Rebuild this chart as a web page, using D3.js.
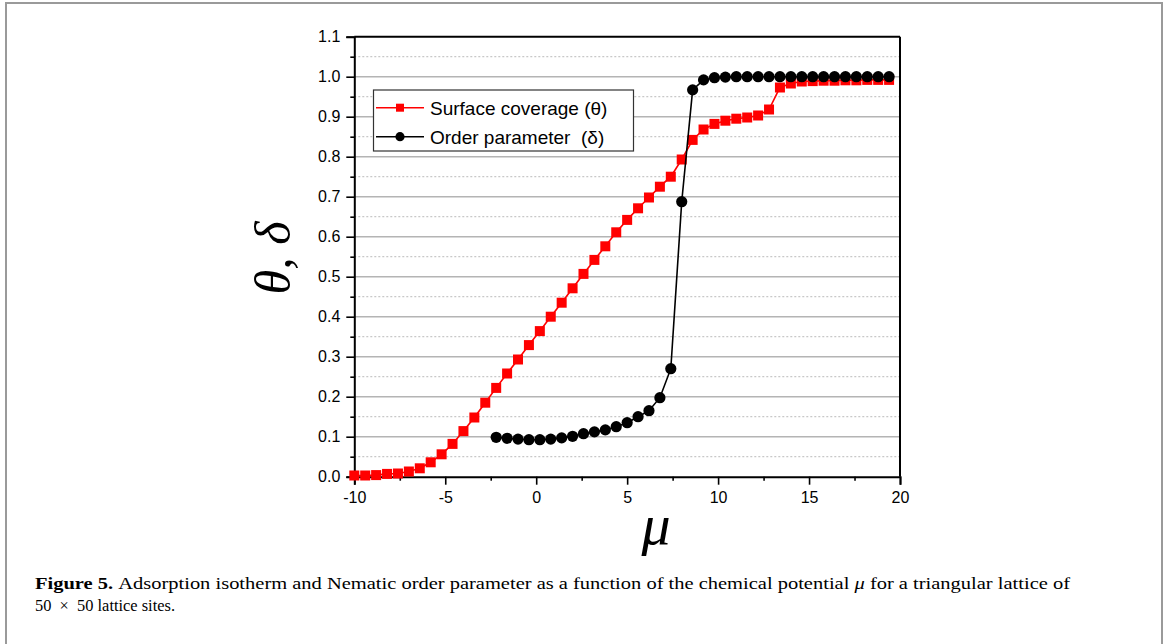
<!DOCTYPE html>
<html>
<head>
<meta charset="utf-8">
<script src="https://cdn.jsdelivr.net/npm/d3@7"></script>
<style>
  body { margin: 0; background: #fff; }
</style>
</head>
<body>
<svg id="viz" width="1168" height="644"></svg>
<script>
// chemical potential values (x) and the two series
const muTheta = [-10, -9.4, -8.8, -8.2, -7.6, -7, -6.4, -5.8, -5.2, -4.6, -4, -3.4, -2.8, -2.2, -1.6, -1, -0.4, 0.2, 0.8, 1.4,
  2, 2.6, 3.2, 3.8, 4.4, 5, 5.6, 6.2, 6.8, 7.4, 8, 8.6, 9.2, 9.8, 10.4, 11, 11.6, 12.2, 12.8, 13.4,
  14, 14.6, 15.2, 15.8, 16.4, 17, 17.6, 18.2, 18.8, 19.4];
const theta = [0.003, 0.003, 0.004, 0.007, 0.008, 0.013, 0.021, 0.036, 0.056, 0.082, 0.114, 0.148, 0.185, 0.222, 0.258, 0.293, 0.329, 0.364, 0.400, 0.435,
  0.471, 0.507, 0.542, 0.576, 0.611, 0.642, 0.671, 0.698, 0.725, 0.750, 0.793, 0.842, 0.868, 0.882, 0.890, 0.895, 0.898, 0.903, 0.918, 0.973,
  0.983, 0.988, 0.989, 0.990, 0.990, 0.991, 0.991, 0.992, 0.992, 0.992];

const muDelta = [-2.2, -1.6, -1, -0.4, 0.2, 0.8, 1.4, 2, 2.6, 3.2, 3.8, 4.4, 5, 5.6, 6.2, 6.8, 7.4, 8, 8.6, 9.2,
  9.8, 10.4, 11, 11.6, 12.2, 12.8, 13.4, 14, 14.6, 15.2, 15.8, 16.4, 17, 17.6, 18.2, 18.8, 19.4];
const delta = [0.0985, 0.096, 0.094, 0.0925, 0.0925, 0.094, 0.097, 0.101, 0.1075, 0.112, 0.117, 0.125, 0.135, 0.150, 0.165, 0.1975, 0.270, 0.6875, 0.967, 0.992,
  0.9975, 0.999, 1.0, 1.0, 1.0, 1.0, 1.0, 1.0, 1.0, 1.0, 1.0, 1.0, 1.0, 1.0, 1.0, 1.0, 1.0];

const xMajor = [-10, -5, 0, 5, 10, 15, 20];
const xMinor = [-7.5, -2.5, 2.5, 7.5, 12.5, 17.5];
const yMajor = [0, 0.1, 0.2, 0.3, 0.4, 0.5, 0.6, 0.7, 0.8, 0.9, 1.0, 1.1];
const yMinor = [0.05, 0.15, 0.25, 0.35, 0.45, 0.55, 0.65, 0.75, 0.85, 0.95, 1.05];

const legendLabels = ["Surface coverage (\u03b8)", "Order parameter  (\u03b4)"];

const sans = "Arial, 'Liberation Sans', sans-serif";
const serif = "'Liberation Serif', 'DejaVu Serif', serif";

let svg = d3.select("#viz");

// outer figure frame
svg.append("rect")
    .attr("x", 6).attr("y", 3)
    .attr("width", 1156).attr("height", 700)
    .attr("fill", "none")
    .attr("stroke", "#9a9a9a")
    .attr("stroke-width", 2);

let x = d3.scaleLinear().domain([-10, 20]).range([354.3, 900]);
let y = d3.scaleLinear().domain([0, 1.1]).range([476.7, 36.7]);

// grid lines
svg.append("g").selectAll("line")
    .data(yMinor)
    .join("line")
    .attr("x1", x(-10)).attr("x2", x(20))
    .attr("y1", d => y(d)).attr("y2", d => y(d))
    .attr("stroke", "#c8c8c8")
    .attr("stroke-width", 1.2)
    .attr("stroke-dasharray", "2,2");

svg.append("g").selectAll("line")
    .data(yMajor.filter(d => d > 0 && d < 1.1))
    .join("line")
    .attr("x1", x(-10)).attr("x2", x(20))
    .attr("y1", d => y(d)).attr("y2", d => y(d))
    .attr("stroke", "#b4b4b4")
    .attr("stroke-width", 1.5);

// axes (hyphen minus like the original, not the unicode minus)
let xAxis = d3.axisBottom(x).tickValues(xMajor).tickSize(8).tickFormat(d => String(d));
let gx = svg.append("g").attr("transform", `translate(0,${y(0)})`).call(xAxis);
svg.append("g").attr("transform", `translate(0,${y(0)})`)
    .call(d3.axisBottom(x).tickValues(xMinor).tickSize(4).tickFormat(""))
    .select(".domain").remove();

let yAxis = d3.axisLeft(y).tickValues(yMajor).tickSize(8).tickFormat(d => d.toFixed(1));
let gy = svg.append("g").attr("transform", `translate(${x(-10)},0)`).call(yAxis);
svg.append("g").attr("transform", `translate(${x(-10)},0)`)
    .call(d3.axisLeft(y).tickValues(yMinor).tickSize(4).tickFormat(""))
    .select(".domain").remove();

svg.selectAll(".domain").attr("stroke", "#000").attr("stroke-width", 2);
svg.selectAll(".tick line").attr("stroke", "#000").attr("stroke-width", 1.6);
gx.selectAll(".tick text").style("font-family", sans).style("font-size", "16px").attr("dy", "0.95em").attr("fill", "#000");
gy.selectAll(".tick text").style("font-family", sans).style("font-size", "16px").attr("x", -14).attr("fill", "#000");

// top and right frame
svg.append("line").attr("x1", x(-10)).attr("x2", x(20)).attr("y1", y(1.1)).attr("y2", y(1.1))
    .attr("stroke", "#000").attr("stroke-width", 2);
svg.append("line").attr("x1", x(20)).attr("x2", x(20)).attr("y1", y(1.1)).attr("y2", y(0))
    .attr("stroke", "#000").attr("stroke-width", 2);

// series
let thetaData = muTheta.map((m, i) => [m, theta[i]]);
let deltaData = muDelta.map((m, i) => [m, delta[i]]);
let line = d3.line().x(d => x(d[0])).y(d => y(d[1]));

svg.append("path").datum(thetaData)
    .attr("d", line).attr("fill", "none").attr("stroke", "#ff0000").attr("stroke-width", 1.6);
svg.append("g").selectAll("rect")
    .data(thetaData)
    .join("rect")
    .attr("x", d => x(d[0]) - 5).attr("y", d => y(d[1]) - 5)
    .attr("width", 10).attr("height", 10)
    .attr("fill", "#ff0000");

svg.append("path").datum(deltaData)
    .attr("d", line).attr("fill", "none").attr("stroke", "#000").attr("stroke-width", 1.6);
svg.append("g").selectAll("circle")
    .data(deltaData)
    .join("circle")
    .attr("cx", d => x(d[0])).attr("cy", d => y(d[1]))
    .attr("r", 5.6)
    .attr("fill", "#000");

// legend
let lg = svg.append("g");
lg.append("rect").attr("x", 373.5).attr("y", 90).attr("width", 260).attr("height", 61)
    .attr("fill", "#fff").attr("stroke", "#333").attr("stroke-width", 1.2);
let rows = lg.selectAll("g.row").data(legendLabels).join("g")
    .attr("class", "row")
    .attr("transform", (d, i) => `translate(0,${107.7 + i * 29})`);
rows.append("line").attr("x1", 376).attr("x2", 424).attr("y1", 0).attr("y2", 0)
    .attr("stroke", (d, i) => i === 0 ? "#ff0000" : "#000").attr("stroke-width", 1.6);
rows.filter((d, i) => i === 0).append("rect")
    .attr("x", 396).attr("y", -4).attr("width", 8).attr("height", 8).attr("fill", "#ff0000");
rows.filter((d, i) => i === 1).append("circle")
    .attr("cx", 400).attr("cy", 0).attr("r", 4.6).attr("fill", "#000");
rows.append("text")
    .attr("x", 430).attr("y", 0).attr("dy", "0.36em")
    .style("font-family", sans)
    .style("font-size", "19px")
    .style("white-space", "pre")
    .text(d => d);

// axis titles
svg.append("text")
    .attr("transform", "translate(290,258) rotate(-90)")
    .attr("text-anchor", "middle")
    .style("font-family", serif)
    .style("font-style", "italic")
    .style("font-size", "50px")
    .text("\u03b8, \u03b4");

svg.append("text")
    .attr("x", 656).attr("y", 544)
    .attr("text-anchor", "middle")
    .style("font-family", serif)
    .style("font-style", "italic")
    .style("font-size", "58px")
    .text("\u03bc");

// caption
let cap1 = svg.append("text")
    .attr("x", 35).attr("y", 589)
    .style("font-family", serif)
    .style("font-size", "17.5px")
    .attr("textLength", 1035)
    .attr("lengthAdjust", "spacingAndGlyphs");
cap1.append("tspan").style("font-weight", "bold").text("Figure 5. ");
cap1.append("tspan").text("Adsorption isotherm and Nematic order parameter as a function of the chemical potential ");
cap1.append("tspan").style("font-style", "italic").text("\u03bc");
cap1.append("tspan").text(" for a triangular lattice of");

svg.append("text")
    .attr("x", 35).attr("y", 611)
    .style("font-family", serif)
    .style("font-size", "17.5px")
    .attr("textLength", 140)
    .attr("lengthAdjust", "spacingAndGlyphs")
    .style("white-space", "pre")
    .text("50  \u00d7  50 lattice sites.");
</script>
</body>
</html>
